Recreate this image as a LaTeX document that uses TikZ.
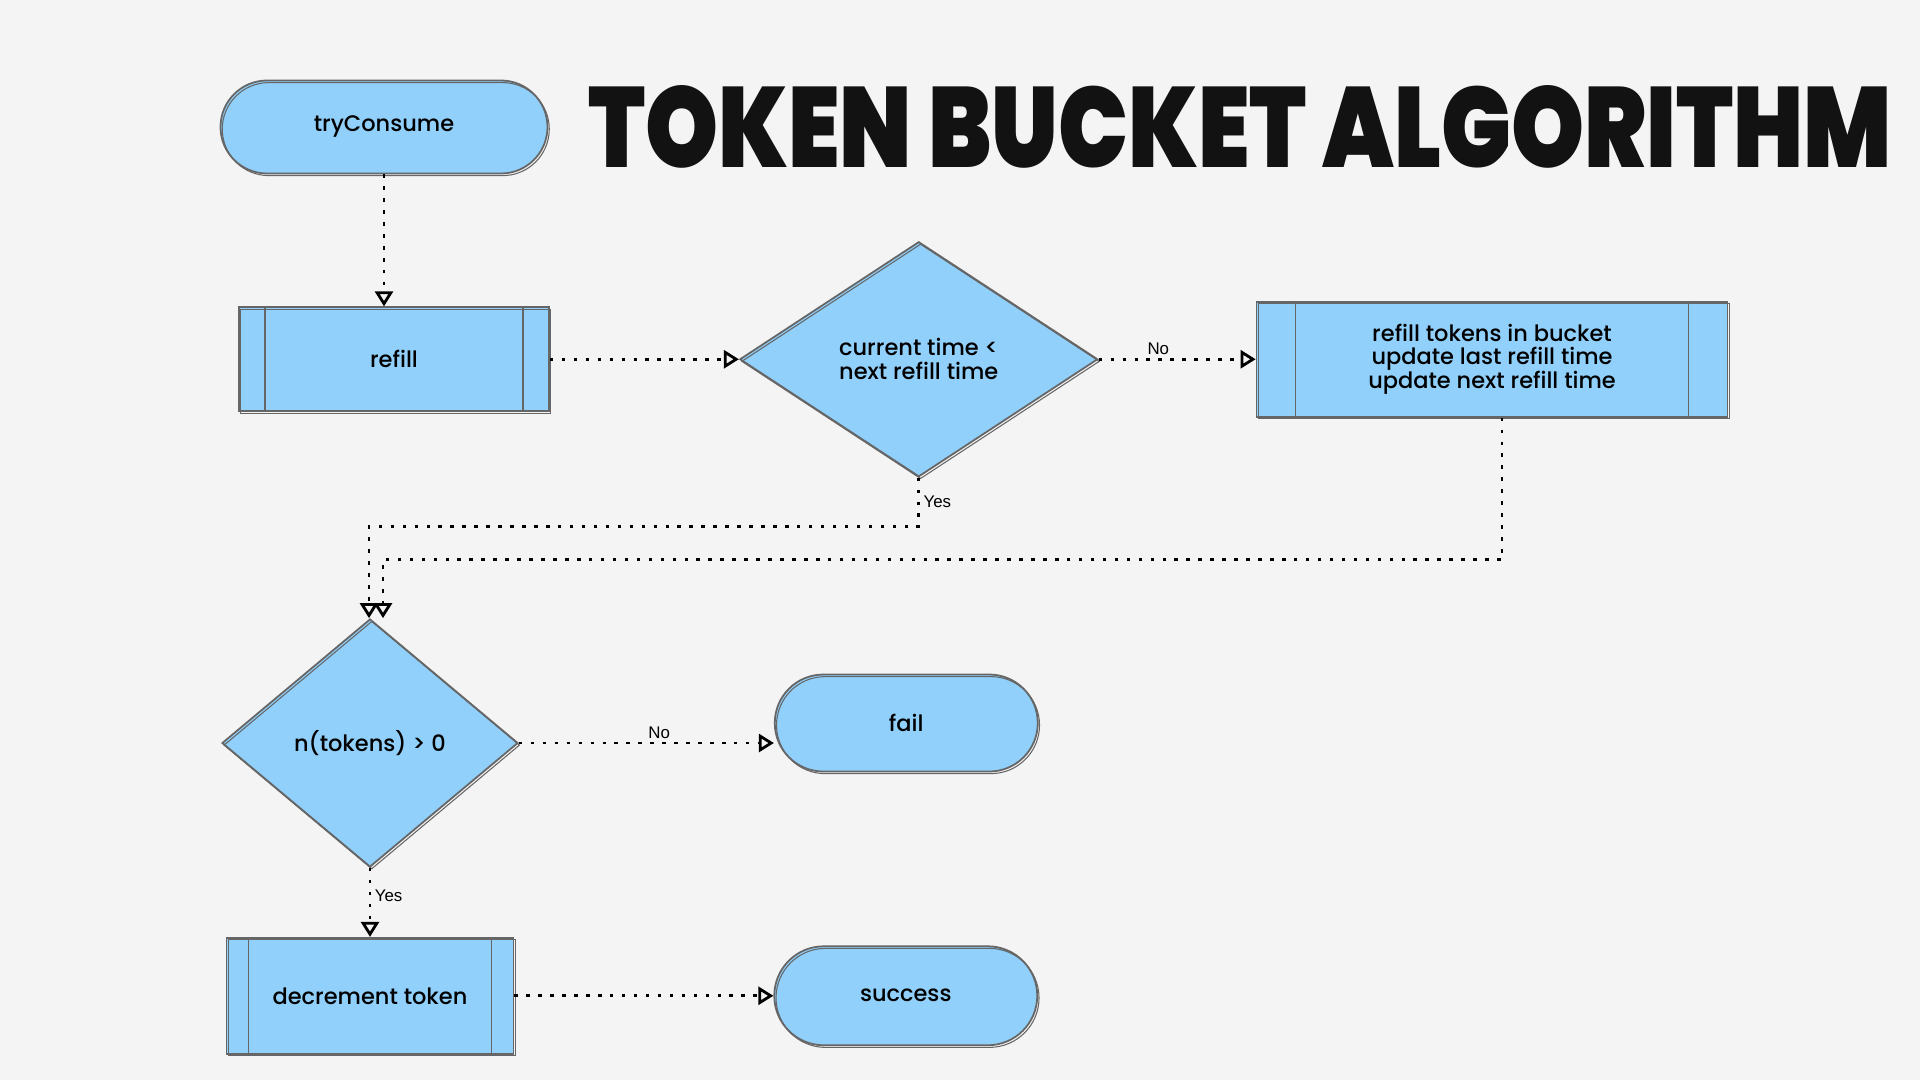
\documentclass[tikz,border=0pt]{standalone}
\usepackage{fontspec}
\usepackage{graphicx}
\setmainfont{Poppins}[UprightFont=* Medium]
\newfontfamily\titlefont{Poppins Black}
\newfontfamily\labelfont{Liberation Sans}
\usetikzlibrary{positioning, arrows.meta, shapes.geometric, shapes.misc}

\definecolor{paper}{HTML}{F4F4F4}
\definecolor{boxblue}{HTML}{90D0FB}
\definecolor{pencil}{HTML}{666666}
\definecolor{ink}{HTML}{121212}

\tikzset{
    shape base/.style = {fill=boxblue, draw=pencil, line width=0.5pt,
        font=\fontsize{6.4}{6.8}\selectfont, align=center, inner sep=0pt,
        postaction={draw=pencil, line width=0.3pt, transform canvas={shift={(0.5pt,-0.6pt)}}}},
    terminal/.style   = {shape base, rounded rectangle},
    procbox/.style    = {shape base, rectangle},
    decision/.style   = {shape base, diamond},
    flow/.style       = {line width=0.75pt, dash pattern=on 1pt off 2.4pt,
        -{Triangle[open, length=0.15cm, width=0.18cm, line width=0.8pt]}},
    lbl/.style        = {font=\labelfont\fontsize{4.8}{5}\selectfont, inner sep=1pt}
}

\begin{document}
\begin{tikzpicture}
    \fill[paper] (0,0) rectangle (19.2,-10.8);
    \useasboundingbox (0,0) rectangle (19.2,-10.8);

    \node[terminal, minimum width=3.27cm, minimum height=0.93cm] (try) at (3.84,-1.27) {tryConsume};
    \node[procbox, minimum width=3.10cm, minimum height=1.04cm] (refill) [below=1.32cm of try, xshift=0.1cm] {refill};
    \node[decision, minimum width=3.58cm, minimum height=2.35cm] (check) [right=1.89cm of refill] {current time <\\next refill time};
    \node[procbox, minimum width=4.71cm, minimum height=1.15cm] (update) [right=1.57cm of check]
        {refill tokens in bucket\\update last refill time\\update next refill time};
    \node[decision, minimum width=2.96cm, minimum height=2.48cm] (ntok) [below=2.06cm of refill, xshift=-0.24cm] {n(tokens) > 0};
    \node[terminal, minimum width=2.63cm, minimum height=0.97cm] (fail) [right=2.55cm of ntok, yshift=0.2cm] {fail};
    \node[procbox, minimum width=2.87cm, minimum height=1.16cm] (decr) [below=0.69cm of ntok] {decrement token};
    \node[terminal, minimum width=2.63cm, minimum height=0.99cm] (success) [right=2.59cm of decr] {success};

    \node[text=ink, inner sep=0pt] (title) at (12.40,-1.27)
        {\resizebox{13.04cm}{0.82cm}{\titlefont TOKEN BUCKET ALGORITHM}};

    % inner bars of the process boxes
    \foreach \n/\d in {refill/0.27, update/0.40, decr/0.23} {
        \draw[pencil, line width=0.4pt] ([xshift=\d cm]\n.north west) -- ([xshift=\d cm]\n.south west);
        \draw[pencil, line width=0.4pt] ([xshift=-\d cm]\n.north east) -- ([xshift=-\d cm]\n.south east);
    }

    % connectors
    \draw[flow] (try.south) -- (try.south |- refill.north);
    \draw[flow] (refill) -- (check);
    \draw[flow] (check) -- node[lbl, above, pos=0.38] {No} (update);
    \draw[flow] (check.south) -- node[lbl, right] {Yes} ++(0,-0.49) -| ([xshift=-0.01cm]ntok.north);
    \draw[flow] ([xshift=0.1cm]update.south) -- ++(0,-1.42) -| ([xshift=0.13cm]ntok.north);
    \draw[flow] (ntok) -- node[lbl, above, pos=0.55] {No} (fail.west |- ntok);
    \draw[flow] (ntok) -- node[lbl, right, pos=0.4] {Yes} (decr);
    \draw[flow] (decr) -- (success);
\end{tikzpicture}
\end{document}
